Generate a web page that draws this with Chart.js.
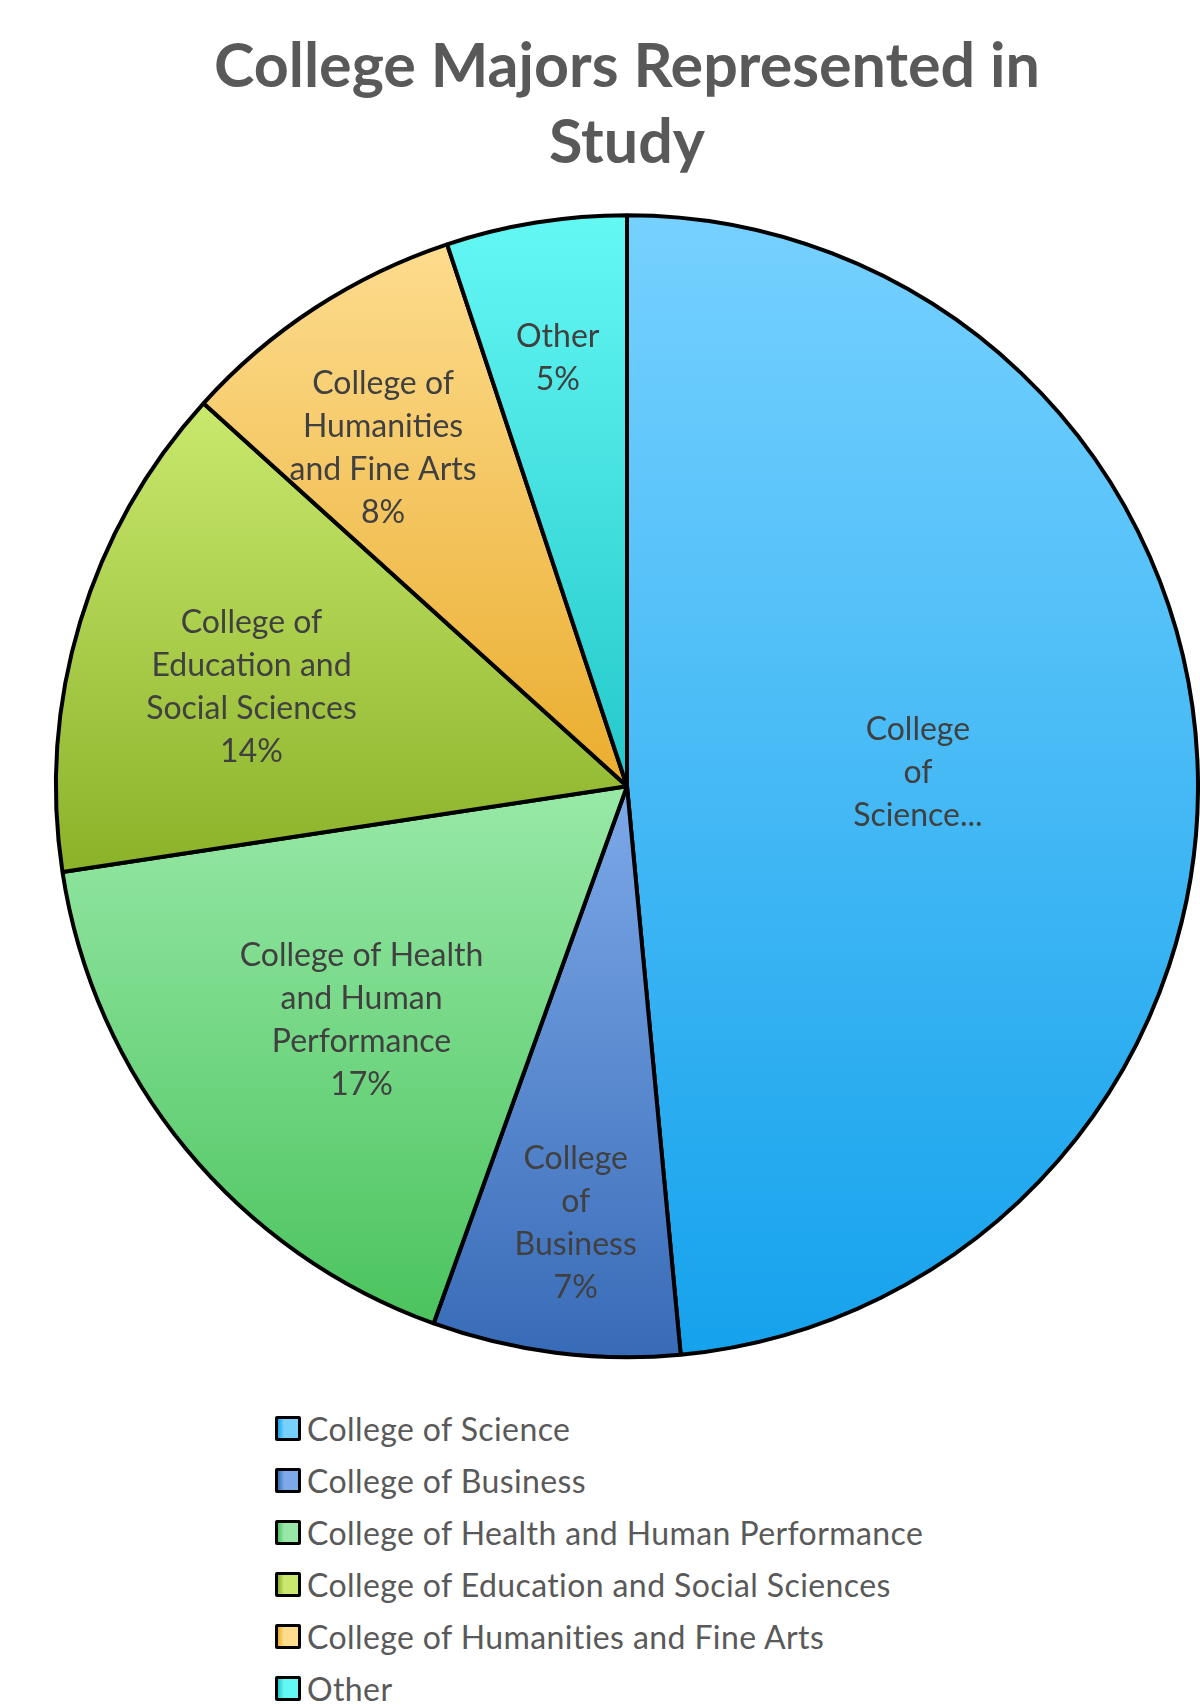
<!DOCTYPE html>
<html>
<head>
<meta charset="utf-8">
<title>College Majors Represented in Study</title>
<script src="https://cdn.jsdelivr.net/npm/chart.js@4.4.1/dist/chart.umd.min.js"></script>
<style>
    body { margin: 0; background: #fff; }
    #wrap { position: relative; width: 1200px; height: 1707px; }
    #chart-box { position: absolute; left: 0; top: 0; width: 1200px; height: 1360px; }
    #legend { position: absolute; left: 275px; top: 1402px; font-family: Lato, sans-serif; font-size: 32px; letter-spacing: 0.4px; color: #595959; }
    #legend .row { height: 52px; display: flex; align-items: center; }
    #legend .box { width: 20px; height: 19px; border: 3px solid #000; border-radius: 2px; margin-right: 6px; }
</style>
</head>
<body>
<div id="wrap">
    <div id="chart-box"><canvas id="majors"></canvas></div>
    <div id="legend"></div>
</div>
<script>
    // data (share of students, %)
    var majors = [
        "College of Science",
        "College of Business",
        "College of Health and Human Performance",
        "College of Education and Social Sciences",
        "College of Humanities and Fine Arts",
        "Other"
    ];
    var shares = [48.5, 7.0, 17.1, 14.1, 8.2, 5.1];

    // how the in-slice labels wrap (Science is cut off in the original)
    var sliceText = [
        ["College", "of", "Science..."],
        ["College", "of", "Business"],
        ["College of Health", "and Human", "Performance"],
        ["College of", "Education and", "Social Sciences"],
        ["College of", "Humanities", "and Fine Arts"],
        ["Other"]
    ];
    var showPct = [false, true, true, true, true, true];
    var labelRadius = [0.51, 0.77, 0.62, 0.68, 0.73, 0.76];
    var labelTurn = [0, -0.5, -2, -2, -2.7, 0]; // degrees off the bisector

    var topColors = ["#76D1FF", "#7DA9E8", "#98E9A7", "#C9E86D", "#FDDC8E", "#64F8F4"];
    var bottomColors = ["#15A2EC", "#386BB7", "#4BC35E", "#8BB229", "#EAAD2E", "#24C8CA"];

    var total = shares.reduce(function(a, b) { return a + b; }, 0);

    // vertical gradient over the slice's own height
    function sliceFill(ctx) {
        var chart = ctx.chart;
        var i = ctx.dataIndex;
        var area = chart.chartArea;
        if (!area || i === undefined) return topColors[i] || "#ccc";
        var cx = (area.left + area.right) / 2;
        var cy = (area.top + area.bottom) / 2;
        var r = (Math.min(area.right - area.left, area.bottom - area.top) - 4) / 2;
        var before = 0;
        for (var k = 0; k < i; k++) before += shares[k];
        var a0 = -Math.PI / 2 + before / total * 2 * Math.PI;
        var a1 = a0 + shares[i] / total * 2 * Math.PI;
        var ys = [cy, cy + Math.sin(a0) * r, cy + Math.sin(a1) * r];
        var top = Math.min.apply(null, ys), bot = Math.max.apply(null, ys);
        // slice crosses top (-90deg / 270deg) or bottom (90deg)
        if (a0 <= -Math.PI / 2 + 1e-6 || (a0 < 1.5 * Math.PI && a1 >= 1.5 * Math.PI)) top = cy - r;
        if (a0 < Math.PI / 2 && a1 > Math.PI / 2) bot = cy + r;
        var g = chart.ctx.createLinearGradient(0, top, 0, bot);
        g.addColorStop(0, topColors[i]);
        g.addColorStop(1, bottomColors[i]);
        return g;
    }

    var sliceLabels = {
        id: "sliceLabels",
        afterDatasetsDraw: function(chart) {
            var ctx = chart.ctx;
            var arcs = chart.getDatasetMeta(0).data;
            ctx.save();
            ctx.font = "32px Lato";
            ctx.fillStyle = "#404040";
            ctx.textAlign = "center";
            ctx.textBaseline = "middle";
            arcs.forEach(function(arc, i) {
                var mid = (arc.startAngle + arc.endAngle) / 2 + labelTurn[i] * Math.PI / 180;
                var d = arc.outerRadius * labelRadius[i];
                var x = arc.x + Math.cos(mid) * d;
                var y = arc.y + Math.sin(mid) * d;
                var lines = sliceText[i].slice();
                if (showPct[i]) lines.push(Math.round(shares[i] / total * 100) + "%");
                var lh = 43;
                var y0 = y - (lines.length - 1) * lh / 2;
                lines.forEach(function(t, j) {
                    ctx.fillText(t, x, y0 + j * lh);
                });
            });
            ctx.restore();
        }
    };

    new Chart(document.getElementById("majors"), {
        type: "pie",
        data: {
            labels: majors,
            datasets: [{
                data: shares,
                backgroundColor: sliceFill,
                borderColor: "#000",
                borderWidth: 4
            }]
        },
        options: {
            responsive: true,
            maintainAspectRatio: false,
            animation: false,
            layout: { padding: { left: 54, right: 0, top: 0, bottom: 0 } },
            plugins: {
                legend: { display: false },
                tooltip: { enabled: false },
                title: {
                    display: true,
                    text: ["College Majors Represented in", "Study"],
                    color: "#595959",
                    font: { family: "Lato", size: 61, weight: "bold", lineHeight: 1.25 },
                    padding: { top: 29, bottom: 31 }
                }
            }
        },
        plugins: [sliceLabels]
    });

    // legend, one entry per line like the original
    var legendEl = document.getElementById("legend");
    majors.forEach(function(name, i) {
        var row = document.createElement("div");
        row.className = "row";
        var box = document.createElement("span");
        box.className = "box";
        box.style.background = "linear-gradient(to right, " + bottomColors[i] + " 0%, " + topColors[i] + " 30%, " + topColors[i] + " 100%)";
        var txt = document.createElement("span");
        txt.textContent = name;
        row.appendChild(box);
        row.appendChild(txt);
        legendEl.appendChild(row);
    });
</script>
</body>
</html>
